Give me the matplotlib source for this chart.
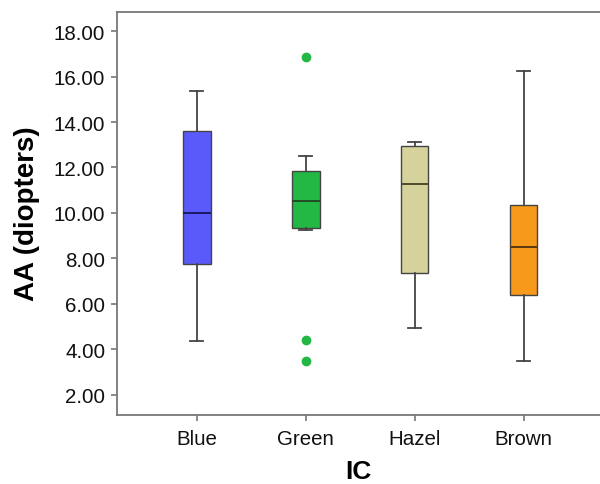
import matplotlib

matplotlib.use("Agg")
import matplotlib.pyplot as plt

# box statistics (diopters)
categories = ["Blue", "Green", "Hazel", "Brown"]
whisker_low = [4.38, 9.26, 4.93, 3.50]
q1 = [7.75, 9.35, 7.34, 6.37]
medians = [10.00, 10.51, 11.26, 8.48]
q3 = [13.60, 11.86, 12.94, 10.36]
whisker_high = [15.36, 12.49, 13.10, 16.24]
outliers = [[], [16.86, 4.42, 3.50], [], []]

box_colors = ["#5a5afa", "#22b843", "#d5d39b", "#f7991a"]
median_colors = ["#1a1a66", "#1f4d22", "#4d4a2e", "#5a3a10"]
y_ticks = [2, 4, 6, 8, 10, 12, 14, 16, 18]

stats = []
for i, name in enumerate(categories):
    stats.append(
        {
            "label": name,
            "whislo": whisker_low[i],
            "q1": q1[i],
            "med": medians[i],
            "q3": q3[i],
            "whishi": whisker_high[i],
            "fliers": outliers[i],
        }
    )

plt.rcParams["font.family"] = ["Liberation Sans", "DejaVu Sans"]

fig = plt.figure(figsize=(6.0, 4.85), dpi=100)
ax = fig.add_axes([0.195, 0.143, 0.805, 0.831])

bp = ax.bxp(
    stats,
    positions=range(1, len(categories) + 1),
    widths=0.25,
    capwidths=0.12,
    patch_artist=True,
    showfliers=True,
)
for i, box in enumerate(bp["boxes"]):
    box.set_facecolor(box_colors[i])
    box.set_edgecolor("#444444")
    box.set_linewidth(1.0)
for i, med in enumerate(bp["medians"]):
    med.set_color(median_colors[i])
    med.set_linewidth(1.4)
for line in bp["whiskers"] + bp["caps"]:
    line.set_color("#444444")
    line.set_linewidth(1.3)
for i, fl in enumerate(bp["fliers"]):
    fl.set_marker("o")
    fl.set_markersize(6)
    fl.set_markerfacecolor(box_colors[i])
    fl.set_markeredgecolor(box_colors[i])

ax.set_xlim(0.266, 4.70)
ax.set_ylim(1.12, 18.86)
ax.set_yticks(y_ticks)
ax.set_yticklabels([f"{v:.2f}" for v in y_ticks])
ax.set_xticks(range(1, len(categories) + 1))
ax.set_xticklabels(categories)

ax.spines["right"].set_visible(False)
for side in ("left", "bottom", "top"):
    ax.spines[side].set_color("#777777")
    ax.spines[side].set_linewidth(1.3)
ax.tick_params(axis="both", direction="out", length=4.5, width=1.2, color="#777777",
               labelsize=14.8, labelcolor="#111111")
ax.tick_params(axis="y", pad=4)
ax.tick_params(axis="x", pad=6)

ax.set_ylabel("AA (diopters)", fontsize=20, fontweight="bold", labelpad=10)
ax.set_xlabel("IC", fontsize=19, fontweight="bold", labelpad=8)

fig.savefig("out.png", dpi=100)
plt.close(fig)
